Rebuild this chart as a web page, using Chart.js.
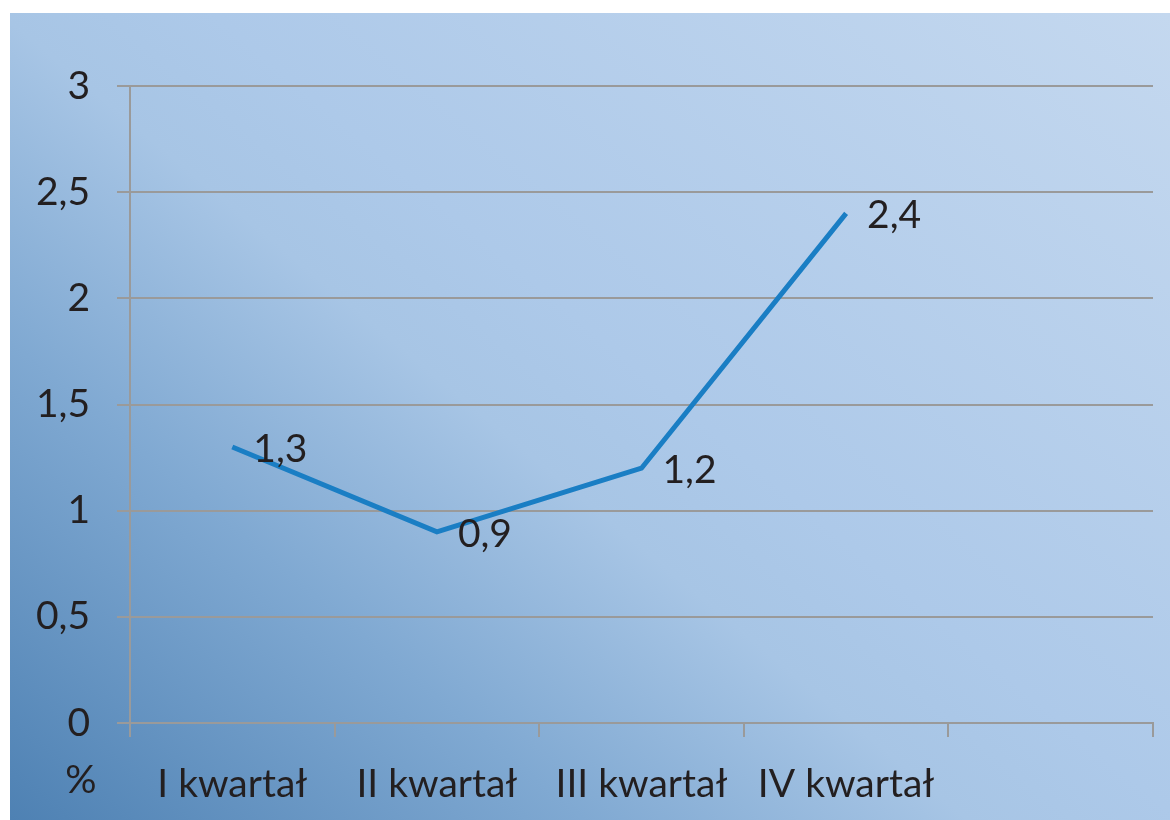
<!DOCTYPE html>
<html lang="pl">
<head>
    <meta charset="UTF-8">
    <title>Kwartały</title>
    <script src="https://cdn.jsdelivr.net/npm/chart.js"></script>
    <style>
        html, body {
            margin: 0;
            padding: 0;
            background: #ffffff;
            overflow: hidden;
        }
        #wrap {
            position: relative;
            width: 1170px;
            height: 820px;
        }
    </style>
</head>
<body>
    <div id="wrap"><canvas id="chart"></canvas></div>

    <script>
        // dane
        const categories = ['I kwartał', 'II kwartał', 'III kwartał', 'IV kwartał', ''];
        const values = [1.3, 0.9, 1.2, 2.4, null];
        const valueLabels = ['1,3', '0,9', '1,2', '2,4'];
        const yTicks = [0, 0.5, 1, 1.5, 2, 2.5, 3];
        const unitLabel = '%';

        const FONT = 'Lato, "Open Sans", sans-serif';
        const TEXT = '#231f20';

        // tło z gradientem (ciemniej w lewym dolnym rogu)
        const bgPlugin = {
            id: 'bg',
            beforeDraw(chart) {
                const ctx = chart.ctx;
                const g = ctx.createLinearGradient(10, 820, 882, -227);
                g.addColorStop(0, '#4e81b3');
                g.addColorStop(0.27, '#80a9d2');
                g.addColorStop(0.45, '#a7c5e5');
                g.addColorStop(0.55, '#adc9e9');
                g.addColorStop(1, '#c4d8ef');
                ctx.save();
                ctx.fillStyle = g;
                ctx.fillRect(10, 13, 1160, 807);
                ctx.restore();
            }
        };

        // etykiety wartości + znak %
        const labelsPlugin = {
            id: 'valueLabels',
            afterDatasetsDraw(chart) {
                const ctx = chart.ctx;
                const meta = chart.getDatasetMeta(0);
                ctx.save();
                ctx.font = '39px ' + FONT;
                ctx.fillStyle = TEXT;
                ctx.textAlign = 'left';
                ctx.textBaseline = 'alphabetic';
                meta.data.forEach((pt, i) => {
                    if (values[i] == null) return;
                    ctx.fillText(valueLabels[i], pt.x + 21, pt.y + 15);
                });
                // jednostka pod osią Y
                const xs = chart.scales.x;
                ctx.textAlign = 'center';
                ctx.fillText(unitLabel, 81, xs.top + 70);
                ctx.restore();
            }
        };

        new Chart(document.getElementById('chart'), {
            type: 'line',
            data: {
                labels: categories,
                datasets: [{
                    data: values,
                    borderColor: '#1a7ec4',
                    borderWidth: 5,
                    pointRadius: 0,
                    tension: 0,
                    fill: false
                }]
            },
            options: {
                responsive: true,
                maintainAspectRatio: false,
                animation: false,
                layout: { padding: { left: 0, top: 86, right: 17, bottom: 0 } },
                plugins: {
                    legend: { display: false },
                    tooltip: { enabled: false }
                },
                scales: {
                    x: {
                        type: 'category',
                        offset: true,
                        grid: {
                            offset: true,
                            drawOnChartArea: false,
                            drawTicks: true,
                            tickLength: 14,
                            color: '#9a9a9a',
                            lineWidth: 2
                        },
                        border: { display: true, color: '#9a9a9a', width: 2 },
                        ticks: {
                            color: TEXT,
                            font: { family: FONT, size: 39 },
                            padding: 24,
                            maxRotation: 0,
                            autoSkip: false
                        },
                        afterFit(scale) { scale.height = 97; }
                    },
                    y: {
                        min: 0,
                        max: 3,
                        afterBuildTicks(scale) {
                            scale.ticks = yTicks.map(v => ({ value: v }));
                        },
                        grid: {
                            color: '#9a9a9a',
                            lineWidth: 2,
                            tickLength: 13
                        },
                        border: { display: true, color: '#9a9a9a', width: 2 },
                        ticks: {
                            color: TEXT,
                            font: { family: FONT, size: 39 },
                            padding: 27,
                            callback: v => String(v).replace('.', ',')
                        },
                        afterFit(scale) { scale.width = 130; }
                    }
                }
            },
            plugins: [bgPlugin, labelsPlugin]
        });
    </script>
</body>
</html>
